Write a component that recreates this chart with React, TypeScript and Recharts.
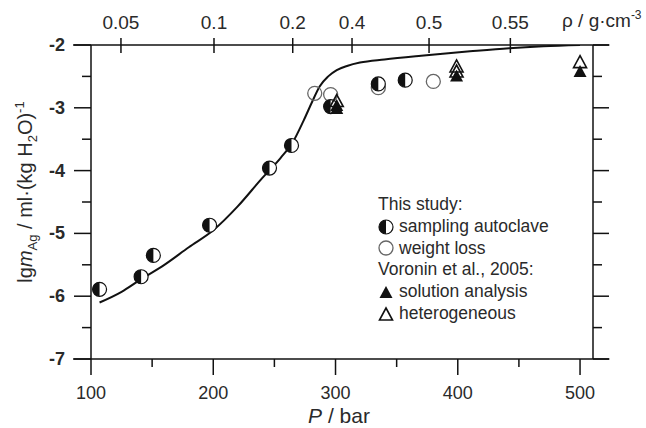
import { ComposedChart, Legend, Line, ReferenceLine, Scatter, XAxis, YAxis } from "recharts";

// fitted curve
const curveP = [107, 125, 140, 160, 180, 200, 220, 240, 255, 265, 274, 281, 287, 294, 301, 310, 320, 340, 370, 410, 442, 470, 500];
const curveLg = [-6.1, -5.93, -5.74, -5.5, -5.22, -4.95, -4.57, -4.12, -3.8, -3.55, -3.2, -2.9, -2.66, -2.5, -2.4, -2.33, -2.28, -2.23, -2.17, -2.1, -2.05, -2.02, -2.0];

// this study
const autoclaveP = [107, 141, 151, 197, 246, 264, 296, 335, 357];
const autoclaveLg = [-5.89, -5.69, -5.35, -4.87, -3.96, -3.6, -2.98, -2.62, -2.56];
const weightLossP = [283, 296, 335, 380];
const weightLossLg = [-2.77, -2.79, -2.68, -2.58];

// Voronin et al., 2005
const solutionP = [301, 301, 399, 500];
const solutionLg = [-2.97, -3.02, -2.5, -2.43];
const heteroP = [301, 399, 399, 500];
const heteroLg = [-2.9, -2.35, -2.43, -2.28];

const bottomTicks = [100, 150, 200, 250, 300, 350, 400, 450, 500];
const yTicks = [-7, -6.5, -6, -5.5, -5, -4.5, -4, -3.5, -3, -2.5, -2];
const rhoLabels = ["0.05", "0.1", "0.2", "0.4", "0.5", "0.55"];
const rhoTickP = [124.5, 200.6, 265, 313.5, 376.5, 443];

const xDomain = [100, 510.6];
const lineStart = 85.3;
const lineEnd = 524;

const zip = (ps: number[], lgs: number[]) => ps.map((p, i) => ({ p, lg: lgs[i] }));

const FONT = "'Liberation Sans', Arial, sans-serif";
const INK = "#111";
const TXT = "#2a2a2a";

const HalfCircle = ({ cx, cy }: any) => (
  <g>
    <circle cx={cx} cy={cy} r={7} fill="#fff" stroke={INK} strokeWidth={1.2} />
    <path d={`M${cx},${cy - 7} A7,7 0 0,0 ${cx},${cy + 7} Z`} fill={INK} />
  </g>
);

const OpenCircle = ({ cx, cy }: any) => (
  <circle cx={cx} cy={cy} r={7} fill="none" stroke="#666" strokeWidth={1.3} />
);

const FilledTri = ({ cx, cy }: any) => (
  <path d={`M${cx},${cy - 7} L${cx + 6.5},${cy + 5} L${cx - 6.5},${cy + 5} Z`} fill={INK} />
);

const OpenTri = ({ cx, cy }: any) => (
  <path d={`M${cx},${cy - 7} L${cx + 6.5},${cy + 5} L${cx - 6.5},${cy + 5} Z`} fill="none" stroke={INK} strokeWidth={1.6} />
);

const BottomTick = ({ x, y, payload }: any) => {
  const major = payload.value % 100 === 0;
  return (
    <g>
      <line x1={x} x2={x} y1={y} y2={y + (major ? 16 : 8)} stroke={INK} strokeWidth={1.5} />
      {major && (
        <text x={x} y={y + 40} textAnchor="middle" fontSize={18} fill={TXT} fontFamily={FONT}>
          {payload.value}
        </text>
      )}
    </g>
  );
};

const TopTick = ({ x, y, payload }: any) => {
  const i = rhoTickP.indexOf(payload.value);
  return (
    <g>
      <line x1={x} x2={x} y1={y - 7} y2={y + 8} stroke={INK} strokeWidth={1.5} />
      <text x={x} y={y - 16} textAnchor="middle" fontSize={19} fill={TXT} fontFamily={FONT}>
        {rhoLabels[i]}
      </text>
    </g>
  );
};

const LeftTick = ({ x, y, payload }: any) => {
  const major = Number.isInteger(payload.value);
  return (
    <g>
      <line x1={x - (major ? 17 : 9)} x2={x} y1={y} y2={y} stroke={INK} strokeWidth={1.5} />
      {major && (
        <text x={x - 26} y={y + 6} textAnchor="end" fontSize={18} fontWeight="bold" fill={TXT} fontFamily={FONT}>
          {payload.value}
        </text>
      )}
    </g>
  );
};

const RightTick = ({ x, y, payload }: any) => {
  const major = Number.isInteger(payload.value);
  return <line x1={x} x2={x + (major ? 16 : 9)} y1={y} y2={y} stroke={INK} strokeWidth={1.5} />;
};

const legendRows = [
  { kind: "title", text: "This study:" },
  { kind: "half", text: "sampling autoclave" },
  { kind: "open", text: "weight loss" },
  { kind: "title", text: "Voronin et al., 2005:" },
  { kind: "ftri", text: "solution analysis" },
  { kind: "otri", text: "heterogeneous" },
];

const LegendIcon = ({ kind }: { kind: string }) => {
  const c = 8;
  return (
    <svg width={16} height={16} style={{ marginRight: 5, flex: "none" }}>
      {kind === "half" && <HalfCircle cx={c} cy={c} />}
      {kind === "open" && <OpenCircle cx={c} cy={c} />}
      {kind === "ftri" && <FilledTri cx={c} cy={c + 1} />}
      {kind === "otri" && <OpenTri cx={c} cy={c + 1} />}
    </svg>
  );
};

const LegendBox = () => (
  <div style={{ fontFamily: FONT, fontSize: 17.5, color: TXT, lineHeight: "21.8px" }}>
    {legendRows.map((r) => (
      <div key={r.text} style={{ display: "flex", alignItems: "center", height: 21.8 }}>
        {r.kind !== "title" && <LegendIcon kind={r.kind} />}
        <span>{r.text}</span>
      </div>
    ))}
  </div>
);

const App = () => {
  return (
    <div style={{ position: "absolute", left: 0, top: 0, background: "#fff" }}>
      <ComposedChart width={646} height={428} margin={{ top: 0, right: 0, bottom: 0, left: 0 }}>
        <XAxis
          dataKey="p"
          type="number"
          domain={xDomain}
          allowDataOverflow
          ticks={bottomTicks}
          interval={0}
          height={69}
          axisLine={false}
          tickLine={false}
          tickSize={0}
          tickMargin={0}
          tick={<BottomTick />}
          label={(props: any) => {
            const vb = props.viewBox;
            return (
              <text x={vb.x + vb.width / 2 - 3} y={423} textAnchor="middle" fontSize={21} fill={TXT} fontFamily={FONT}>
                <tspan fontStyle="italic">P</tspan> / bar
              </text>
            );
          }}
        />
        <XAxis
          xAxisId="top"
          dataKey="p"
          orientation="top"
          type="number"
          domain={xDomain}
          allowDataOverflow
          ticks={rhoTickP}
          interval={0}
          height={45}
          axisLine={false}
          tickLine={false}
          tickSize={0}
          tickMargin={0}
          tick={<TopTick />}
          label={(props: any) => {
            const vb = props.viewBox;
            return (
              <text x={vb.x + vb.width - 31} y={27} fontSize={19} fill={TXT} fontFamily={FONT}>
                ρ / g·cm<tspan fontSize={12} dy={-8}>-3</tspan>
              </text>
            );
          }}
        />
        <YAxis
          type="number"
          domain={[-7, -2]}
          allowDataOverflow
          ticks={yTicks}
          interval={0}
          width={91}
          axisLine={{ stroke: INK, strokeWidth: 1.5 }}
          tickLine={false}
          tickSize={0}
          tickMargin={0}
          tick={<LeftTick />}
          label={(props: any) => {
            const vb = props.viewBox;
            const cy = vb.y + vb.height / 2 - 10;
            return (
              <text
                x={32}
                y={cy}
                transform={`rotate(-90, 32, ${cy})`}
                textAnchor="middle"
                fontSize={20}
                fill={TXT}
                fontFamily={FONT}
              >
                lg<tspan fontStyle="italic">m</tspan>
                <tspan fontSize={13} dy={5}>Ag</tspan>
                <tspan dy={-5}> / ml·(kg H</tspan>
                <tspan fontSize={13} dy={5}>2</tspan>
                <tspan dy={-5}>O)</tspan>
                <tspan fontSize={13} dy={-8}>-1</tspan>
              </text>
            );
          }}
        />
        <YAxis
          yAxisId="r"
          orientation="right"
          type="number"
          domain={[-7, -2]}
          allowDataOverflow
          ticks={yTicks}
          interval={0}
          width={53}
          axisLine={{ stroke: INK, strokeWidth: 1.5 }}
          tickLine={false}
          tickSize={0}
          tickMargin={0}
          tick={<RightTick />}
        />
        <ReferenceLine
          segment={[{ x: lineStart, y: -2 }, { x: lineEnd, y: -2 }]}
          ifOverflow="visible"
          stroke={INK}
          strokeWidth={1.5}
        />
        <ReferenceLine
          segment={[{ x: lineStart, y: -7 }, { x: lineEnd, y: -7 }]}
          ifOverflow="visible"
          stroke={INK}
          strokeWidth={1.5}
        />
        <Line
          data={zip(curveP, curveLg)}
          dataKey="lg"
          type="monotone"
          dot={false}
          stroke={INK}
          strokeWidth={2}
          isAnimationActive={false}
        />
        <Scatter data={zip(weightLossP, weightLossLg)} dataKey="lg" shape={OpenCircle} isAnimationActive={false} />
        <Scatter data={zip(autoclaveP, autoclaveLg)} dataKey="lg" shape={HalfCircle} isAnimationActive={false} />
        <Scatter data={zip(solutionP, solutionLg)} dataKey="lg" shape={FilledTri} isAnimationActive={false} />
        <Scatter
          xAxisId="top"
          data={zip(heteroP, heteroLg)}
          dataKey="lg"
          shape={OpenTri}
          isAnimationActive={false}
        />
        <Legend
          layout="horizontal"
          verticalAlign="middle"
          align="center"
          content={<LegendBox />}
          wrapperStyle={{ position: "absolute", left: 378, top: 194, width: 200 }}
        />
      </ComposedChart>
    </div>
  );
};

export default App;
